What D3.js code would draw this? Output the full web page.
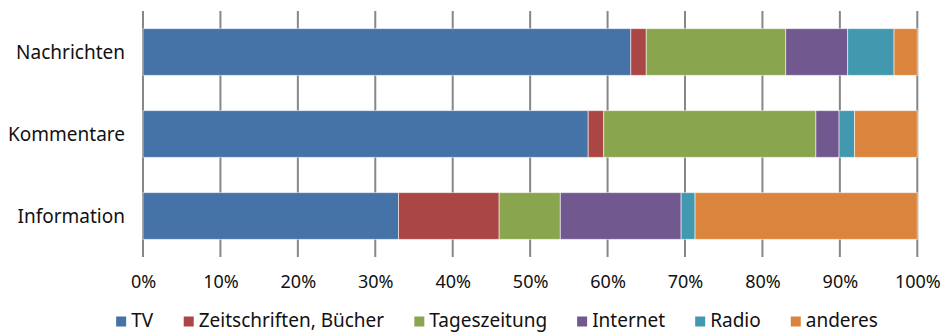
<!DOCTYPE html>
<html>
<head>
<meta charset="utf-8">
<script src="https://cdn.jsdelivr.net/npm/d3@7"></script>
<style>
  html, body { margin: 0; padding: 0; background: #fff; }
  svg { display: block; }
</style>
</head>
<body>
<svg id="chart" width="942" height="332"></svg>
<script>
// Media used per content type (percent shares, stacked to 100%)
const categories = ["Nachrichten", "Kommentare", "Information"];
const seriesNames = ["TV", "Zeitschriften, Bücher", "Tageszeitung", "Internet", "Radio", "anderes"];
const seriesColors = ["#4572A7", "#AA4643", "#89A54E", "#71588F", "#4198AF", "#DB843D"];
const tv            = [63.0, 57.5, 33.0];
const zeitschriften = [2.0, 2.0, 13.0];
const tageszeitung  = [18.0, 27.4, 7.9];
const internet      = [8.0, 3.0, 15.6];
const radio         = [6.0, 2.0, 1.8];
const anderes       = [3.0, 8.1, 28.7];
const tickValues = [0, 10, 20, 30, 40, 50, 60, 70, 80, 90, 100];

const seriesValues = [tv, zeitschriften, tageszeitung, internet, radio, anderes];
const rows = categories.map((c, i) => {
  const r = { category: c };
  seriesNames.forEach((s, j) => { r[s] = seriesValues[j][i]; });
  return r;
});

const FONT = "Noto Sans";
const svg = d3.select("#chart");

const x = d3.scaleLinear().domain([0, 100]).range([143, 917.3]);
const y = d3.scaleBand().domain(categories).range([11, 257])
  .paddingInner(0.43).paddingOuter(0.215);

// vertical gridlines
svg.append("g").selectAll("line").data(tickValues).join("line")
  .attr("x1", d => x(d)).attr("x2", d => x(d))
  .attr("y1", 11).attr("y2", 257)
  .attr("stroke", "#878787").attr("stroke-width", 2);

// stacked bars
const stack = d3.stack().keys(seriesNames)(rows);
const color = d3.scaleOrdinal().domain(seriesNames).range(seriesColors);
svg.append("g").selectAll("g").data(stack).join("g")
  .attr("fill", d => color(d.key))
  .selectAll("rect").data(d => d).join("rect")
  .attr("x", d => x(d[0]))
  .attr("width", d => x(d[1]) - x(d[0]))
  .attr("y", d => y(d.data.category))
  .attr("height", y.bandwidth())
  .attr("stroke", "rgba(255,255,255,0.55)")
  .attr("stroke-width", 1);

// category labels
svg.append("g").selectAll("text").data(categories).join("text")
  .attr("x", 125)
  .attr("y", d => y(d) + y.bandwidth() / 2)
  .attr("dy", "0.35em")
  .attr("text-anchor", "end")
  .attr("font-family", FONT)
  .attr("font-size", 19)
  .attr("fill", "#111")
  .text(d => d);

// x axis tick labels
const xAxis = d3.axisBottom(x).tickValues(tickValues).tickFormat(d => d + "%").tickSize(0).tickPadding(0);
const ax = svg.append("g").attr("transform", "translate(0,288)").call(xAxis);
ax.select(".domain").remove();
ax.selectAll("text")
  .attr("dy", 0).attr("y", 0)
  .attr("font-family", FONT)
  .attr("font-size", 18)
  .attr("fill", "#111");

// legend
const legend = svg.append("g");
const items = legend.selectAll("g").data(seriesNames).join("g");
items.append("rect")
  .attr("x", 0).attr("y", -10).attr("width", 10).attr("height", 10)
  .attr("fill", d => color(d));
items.append("text")
  .attr("x", 15).attr("y", 0)
  .attr("font-family", FONT)
  .attr("font-size", 19)
  .attr("fill", "#111")
  .text(d => d);
let cx = 0;
const gap = 30;
items.each(function () {
  const w = this.getBBox().width;
  d3.select(this).attr("data-x", cx);
  cx += w + gap;
});
const total = cx - gap;
const startX = 497 - total / 2;
items.attr("transform", function () {
  return `translate(${startX + (+this.getAttribute("data-x"))},326.5)`;
});
</script>
</body>
</html>
